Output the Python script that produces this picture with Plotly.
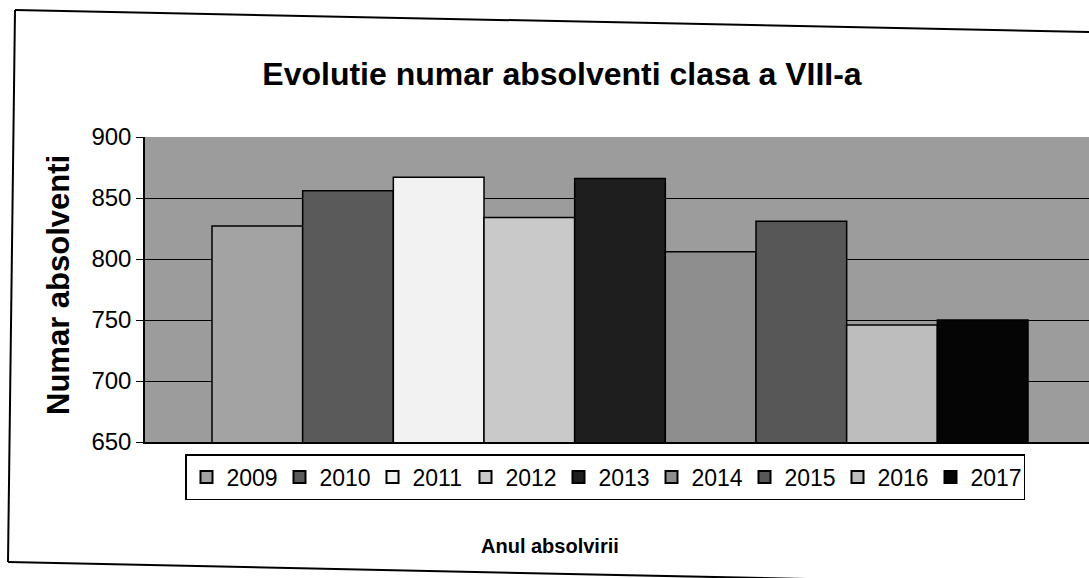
import plotly.graph_objects as go

years = ["2009", "2010", "2011", "2012", "2013", "2014", "2015", "2016", "2017"]
absolventi = [827, 856, 867, 834, 866, 806, 831, 746, 750]
bar_colors = ["#a3a3a3", "#5a5a5a", "#f2f2f2", "#c9c9c9", "#1e1e1e",
              "#8e8e8e", "#575757", "#bdbdbd", "#050505"]
y_ticks = [650, 700, 750, 800, 850, 900]

W, H = 1089, 578
L, T, B = 145, 137, 442
R_END = 1089
pw = R_END - L
ph = B - T

fig = go.Figure()
for yr, val, col in zip(years, absolventi, bar_colors):
    fig.add_trace(go.Bar(
        x=[""], y=[val], name=yr,
        marker=dict(color=col, line=dict(color="black", width=1.5)),
    ))

full = 950.0
fig.update_layout(
    width=W, height=H,
    margin=dict(l=L, r=W - R_END, t=T, b=H - B, autoexpand=False),
    paper_bgcolor="white",
    plot_bgcolor="#9c9c9c",
    barmode="group",
    bargap=1 - 816 / full,
    bargroupgap=0,
    showlegend=True,
    font=dict(family="Arial, Liberation Sans, sans-serif", color="black"),
    title=dict(text="<b>Evolutie numar absolventi clasa a VIII-a</b>",
               x=562 / W, xanchor="center", y=1 - 74 / H, yanchor="middle",
               font=dict(size=32, color="black")),
    legend=dict(orientation="h", x=(185 - L) / pw, xanchor="left",
                y=-(454 - B) / ph, yanchor="top",
                bgcolor="white", bordercolor="black", borderwidth=1.5,
                font=dict(size=23, color="black"),
                entrywidth=48, entrywidthmode="pixels",
                itemsizing="constant", traceorder="normal"),
    xaxis=dict(range=[-0.5, -0.5 + pw / full], showticklabels=False,
               showline=True, linecolor="black", linewidth=1.5,
               showgrid=False, zeroline=False, ticks="", automargin=False),
    yaxis=dict(range=[650, 900], tickvals=y_ticks, ticks="outside", ticklen=7,
               tickcolor="black", showline=True, linecolor="black", linewidth=1.5,
               showgrid=True, gridcolor="black", gridwidth=1, zeroline=False,
               tickfont=dict(size=24, color="black"), automargin=False),
)

fig.add_annotation(text="<b>Numar absolventi</b>", xref="paper", yref="paper",
                   x=(58 - L) / pw, y=(B - 285) / ph, textangle=-90,
                   showarrow=False, font=dict(size=31, color="black"),
                   xanchor="center", yanchor="middle")
fig.add_annotation(text="<b>Anul absolvirii</b>", xref="paper", yref="paper",
                   x=(550 - L) / pw, y=-(546 - B) / ph,
                   showarrow=False, font=dict(size=20, color="black"),
                   xanchor="center", yanchor="middle")

def px(xp):
    return (xp - L) / pw

def py(yp):
    return (B - yp) / ph

frame = [((15, 10), (1089, 32)), ((15, 10), (8, 562)), ((8, 562), (1089, 585))]
for (x0, y0), (x1, y1) in frame:
    fig.add_shape(type="line", xref="paper", yref="paper",
                  x0=px(x0), y0=py(y0), x1=px(x1), y1=py(y1),
                  line=dict(color="black", width=2))

fig.write_html("out.html", config={"displayModeBar": False},
               post_script="document.body.style.margin='0';document.body.style.overflow='hidden';")
